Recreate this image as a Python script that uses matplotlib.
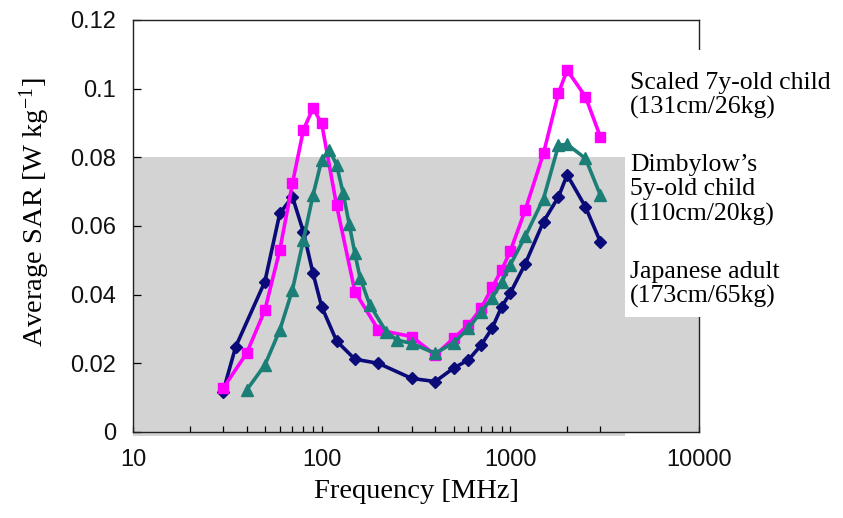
"""
Average SAR vs frequency for three body models (log-x line chart).
"""
import matplotlib
matplotlib.use("Agg")
import matplotlib.pyplot as plt
from matplotlib.patches import Rectangle
from matplotlib.ticker import FixedLocator, FixedFormatter, NullFormatter

# --- data ---
child7_freq = [30, 40, 50, 60, 70, 80, 90, 100, 120, 150, 200, 300, 400, 500,
               600, 700, 800, 900, 1000, 1200, 1500, 1800, 2000, 2500, 3000]
child7_sar = [0.0127, 0.0229, 0.0355, 0.0530, 0.0724, 0.0880, 0.0943, 0.0899,
              0.0660, 0.0409, 0.0297, 0.0278, 0.0224, 0.0273, 0.0312, 0.0360,
              0.0421, 0.0472, 0.0527, 0.0647, 0.0812, 0.0987, 0.1054, 0.0977,
              0.0860]

child5_freq = [40, 50, 60, 70, 80, 90, 100, 110, 120, 130, 140, 150, 160, 180,
               220, 250, 300, 400, 500, 600, 700, 800, 900, 1000, 1200, 1500,
               1800, 2000, 2500, 3000]
child5_sar = [0.0122, 0.0195, 0.0297, 0.0414, 0.0559, 0.0690, 0.0792, 0.0821,
              0.0778, 0.0695, 0.0605, 0.0520, 0.0448, 0.0370, 0.0292, 0.0268,
              0.0258, 0.0229, 0.0260, 0.0302, 0.0350, 0.0390, 0.0437, 0.0487,
              0.0570, 0.0680, 0.0835, 0.0838, 0.0797, 0.0690]

adult_freq = [30, 35, 50, 60, 70, 80, 90, 100, 120, 150, 200, 300, 400, 500,
              600, 700, 800, 900, 1000, 1200, 1500, 1800, 2000, 2500, 3000]
adult_sar = [0.0117, 0.0248, 0.0438, 0.0637, 0.0685, 0.0583, 0.0462, 0.0365,
             0.0265, 0.0212, 0.0200, 0.0156, 0.0147, 0.0186, 0.0210, 0.0253,
             0.0302, 0.0365, 0.0405, 0.0490, 0.0613, 0.0685, 0.0749, 0.0656,
             0.0554]

x_major = [10, 100, 1000, 10000]
x_minor = [20, 30, 40, 50, 60, 70, 80, 90, 200, 300, 400, 500, 600, 700,
           800, 900, 2000, 3000]
y_ticks = [0, 0.02, 0.04, 0.06, 0.08, 0.1, 0.12]
y_labels = ["0", "0.02", "0.04", "0.06", "0.08", "0.1", "0.12"]
x_labels = ["10", "100", "1000", "10000"]

legend_blocks = ["Scaled 7y-old child\n(131cm/26kg)",
                 "Dimbylow\u2019s\n5y-old child\n(110cm/20kg)",
                 "Japanese adult\n(173cm/65kg)"]

# colours
COL_PINK = "#ff00ff"
COL_TEAL = "#1b7f77"
COL_NAVY = "#0a0a78"
COL_GREY = "#d3d3d3"

plt.rcParams["mathtext.fontset"] = "custom"
plt.rcParams["mathtext.rm"] = "Liberation Serif"
plt.rcParams["mathtext.default"] = "regular"

fig = plt.figure(figsize=(8.43, 5.18), dpi=100)
W, H = 843.0, 518.0
ax = fig.add_axes([133 / W, 1 - 432 / H, (699 - 133) / W, (432 - 20) / H])

ax.set_xscale("log")
ax.set_xlim(10, 10000)
ax.set_ylim(0, 0.12)

# shaded band 0..0.08
ax.axhspan(0, 0.08, color=COL_GREY, zorder=0, lw=0)

ax.plot(adult_freq, adult_sar, color=COL_NAVY, lw=2.6, marker="D",
        markersize=6, zorder=3)
ax.plot(child7_freq, child7_sar, color=COL_PINK, lw=2.6, marker="s",
        markersize=7, zorder=4)
ax.plot(child5_freq, child5_sar, color=COL_TEAL, lw=2.6, marker="^",
        markersize=8, zorder=5)

# ticks
ax.xaxis.set_major_locator(FixedLocator(x_major))
ax.xaxis.set_major_formatter(FixedFormatter(x_labels))
ax.xaxis.set_minor_locator(FixedLocator(x_minor))
ax.xaxis.set_minor_formatter(NullFormatter())
ax.yaxis.set_major_locator(FixedLocator(y_ticks))
ax.yaxis.set_major_formatter(FixedFormatter(y_labels))
ax.yaxis.set_minor_locator(FixedLocator([]))

ax.tick_params(axis="x", which="both", direction="in", length=4, width=0.9,
               top=False, pad=12)
ax.tick_params(axis="y", which="both", direction="in", length=6, width=0.9,
               right=False, pad=12)
for lab in ax.get_xticklabels() + ax.get_yticklabels():
    lab.set_fontfamily("Liberation Sans")
    lab.set_fontsize(17)
    lab.set_color("#111111")

for sp in ax.spines.values():
    sp.set_linewidth(1.0)
    sp.set_color("#222222")

fig.text(416 / W, 1 - 492 / H, "Frequency [MHz]", family="Liberation Serif",
         fontsize=20.5, ha="center", va="center")
fig.text(35 / W, 1 - 212 / H, r"Average SAR [W kg$^{-1}$]",
         family="Liberation Serif", fontsize=20.5, rotation=90,
         ha="center", va="center")

# white box behind the labels, and shadow under the x axis
fig.add_artist(Rectangle((625 / W, 1 - 317 / H), (W - 625) / W, (317 - 50) / H,
                         transform=fig.transFigure, facecolor="white",
                         edgecolor="none", zorder=2))
fig.add_artist(Rectangle((133 / W, 1 - 436 / H), (625 - 133) / W, 4 / H,
                         transform=fig.transFigure, facecolor=COL_GREY,
                         edgecolor="none", zorder=-1))

block_centers = [95.5, 190, 284.5]
for txt, yc in zip(legend_blocks, block_centers):
    fig.text(630 / W, 1 - yc / H, txt, family="Liberation Serif",
             fontsize=18.5, ha="left", va="center", linespacing=1.15,
             zorder=3)

fig.savefig("out.png", dpi=100)
